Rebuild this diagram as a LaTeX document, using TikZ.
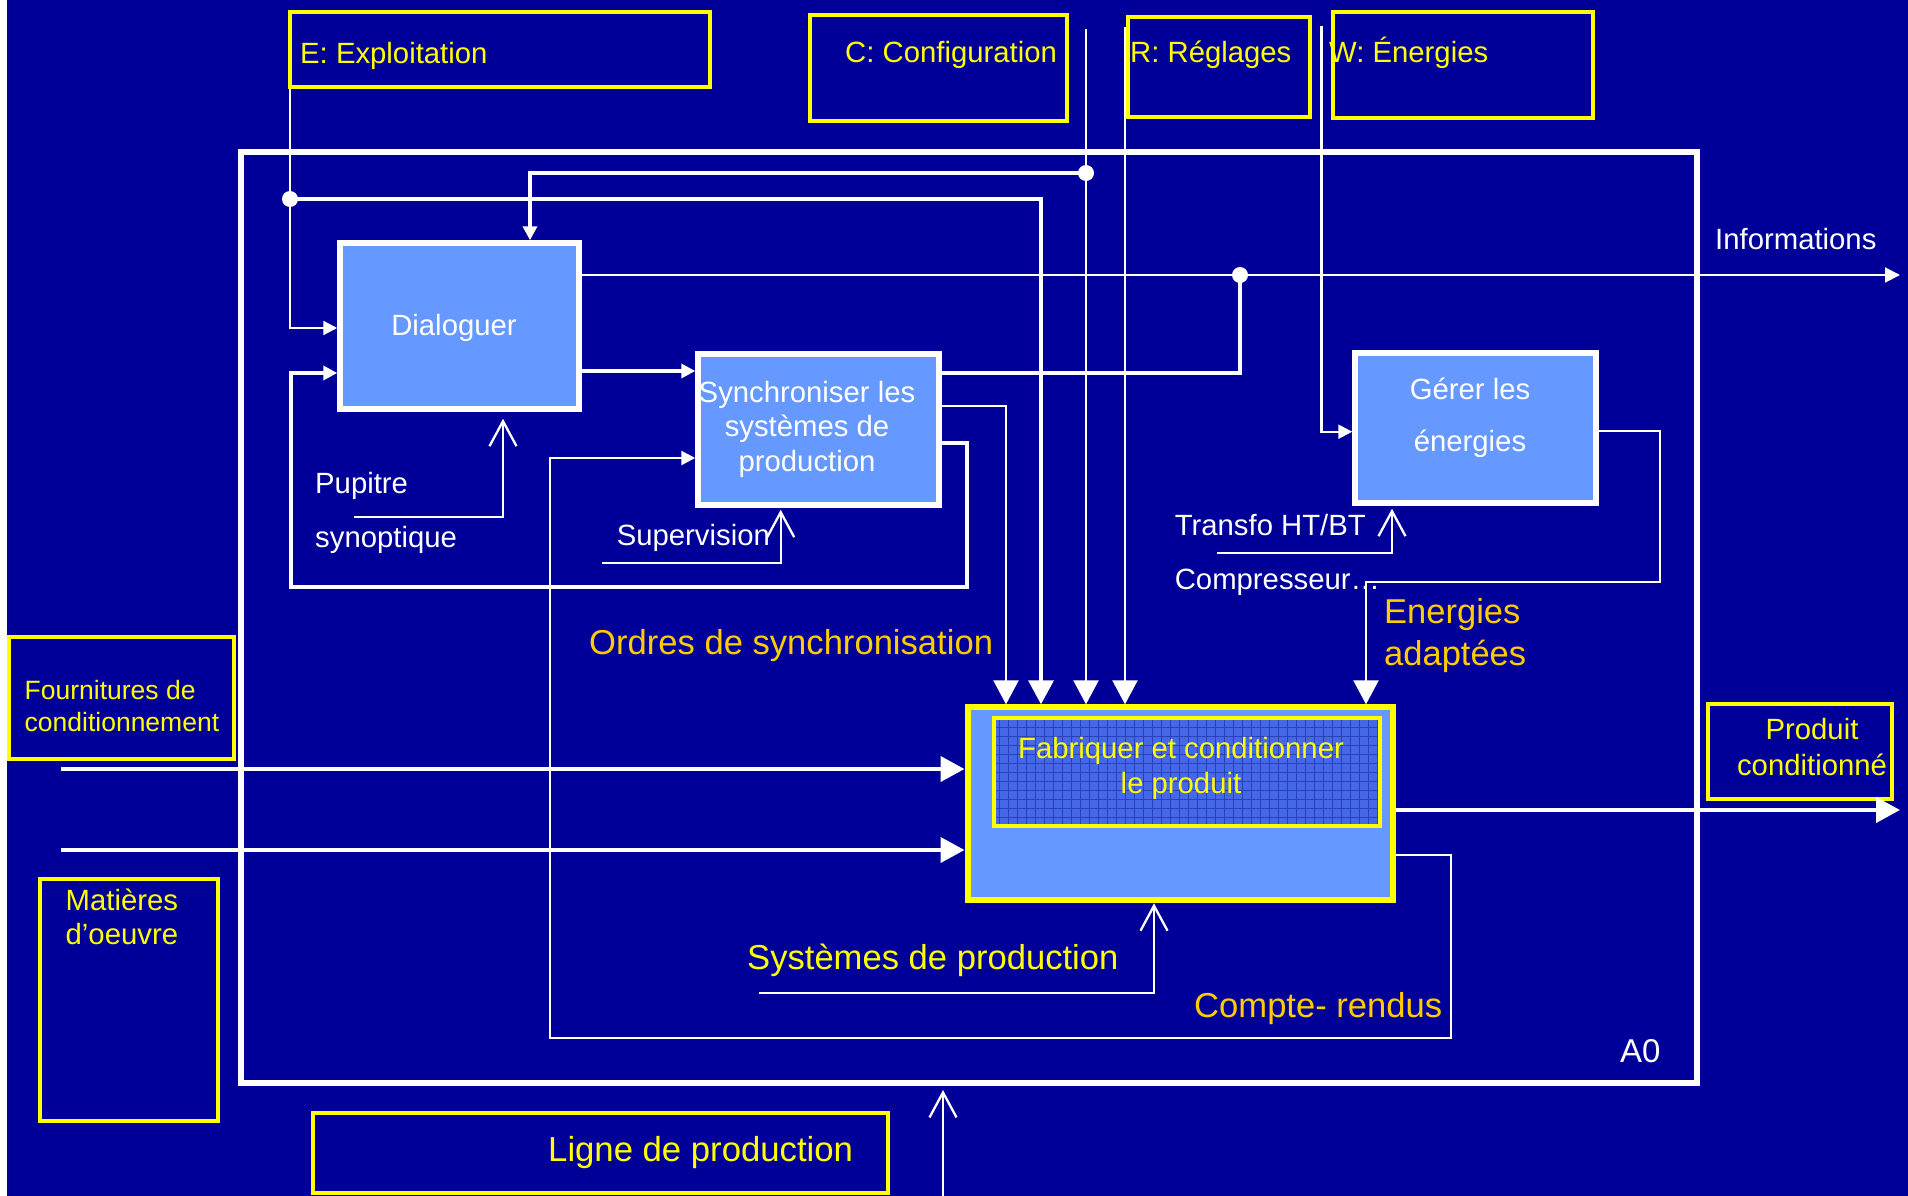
\documentclass[tikz,border=0pt]{standalone}
\usepackage{fontspec}
\setmainfont{Liberation Sans}
\usetikzlibrary{arrows.meta,calc,patterns.meta}
\definecolor{bg}{HTML}{000099}
\definecolor{lblue}{HTML}{6699FF}
\definecolor{yel}{HTML}{FFFF00}
\definecolor{orng}{HTML}{FFCC00}
\definecolor{innerb}{HTML}{4468E8}
\definecolor{gridb}{HTML}{2A40B8}
\newcommand\mlines[4]{\fontsize{#1}{#2}\selectfont\begin{tabular}[t]{@{}#3@{}}#4\end{tabular}}
\begin{document}
\begin{tikzpicture}[x=1pt,y=-1pt,
  ybox/.style={draw=yel,line width=4pt,inner sep=0pt,rectangle},
  wbox/.style={draw=white,fill=lblue,line width=5.5pt,inner sep=0pt,rectangle},
  txt/.style={inner sep=0pt,anchor=base west,text=white,font=\fontsize{29.3}{34}\selectfont},
  txtc/.style={inner sep=0pt,anchor=base,text=white},
  big/.style={font=\fontsize{34.6}{40}\selectfont},
  thinl/.style={draw=white,line width=2.3pt},
  medl/.style={draw=white,line width=3.6pt},
  bigtip/.style={-{Triangle[length=24pt,width=25pt]}},
  smalltip/.style={-{Triangle[length=14pt,width=14pt]}},
  opentip/.style={-{Straight Barb[length=25pt,width=27pt]}},
  jdot/.style={circle,fill=white,inner sep=0pt,minimum size=16pt}]
\useasboundingbox (0,0) rectangle (1908,1196);
\fill[white] (0,0) rectangle (7,1196);
\fill[bg] (7,0) rectangle (1908,1196);

% boxes
\node[ybox,minimum width=420pt,minimum height=74.5pt] (ebox) at (500,49.5) {};
\node[ybox,minimum width=257pt,minimum height=106pt] (cbox) at (938.5,68) {};
\node[ybox,minimum width=182pt,minimum height=100.5pt] (rbox) at (1219,67.25) {};
\node[ybox,minimum width=260pt,minimum height=105.5pt] (wbox) at (1463,65) {};
\node[draw=white,line width=6pt,inner sep=0pt,minimum width=1456.5pt,minimum height=931.5pt] (a0) at (968.75,617.25) {};
\node[wbox,minimum width=239pt,minimum height=166pt] (dlg) at (459.5,326) {};
\node[wbox,minimum width=241pt,minimum height=151pt] (syn) at (818.5,429.5) {};
\node[wbox,minimum width=241pt,minimum height=150pt] (ger) at (1475.5,428) {};
\node[draw=yel,fill=lblue,line width=6pt,inner sep=0pt,minimum width=425pt,minimum height=193pt] (fab) at (1180,803.8) {};
\node[draw=yel,line width=4pt,inner sep=0pt,minimum width=385.5pt,minimum height=108pt,
  preaction={fill=innerb},
  preaction={pattern={Hatch[angle=0,distance=9pt,line width=1pt]},pattern color=gridb}] (inner) at (1186.75,772) {};
\node[ybox,minimum width=184pt,minimum height=94.7pt] (prod) at (1800,751.35) {};
\node[ybox,minimum width=225pt,minimum height=122pt] (four) at (121.5,698) {};
\node[ybox,minimum width=178pt,minimum height=242pt] (mat) at (129,1000) {};
\node[ybox,minimum width=575.5pt,minimum height=80.3pt] (ligne) at (600.25,1152.85) {};

% named points
\coordinate (d1) at (290,199);
\coordinate (d2) at (1086,173);
\coordinate (d3) at (1240,275);
\coordinate (cTop) at (1086,29);
\coordinate (rTop) at (1125,27.5);
\coordinate (wTop) at (1321.5,25.6);
\coordinate (infoEnd) at (1900,275);
\coordinate (prodEnd) at (1900,810);
\coordinate (in1) at (61,769);
\coordinate (in2) at (61,850);
\coordinate (pupS) at (354,517);
\coordinate (supS) at (602,562.7);
\coordinate (traS) at (1217,553);
\coordinate (sysS) at (759,993);
\coordinate (ligS) at (943,1196);

% connectors
\draw[thinl,smalltip] (d1 |- ebox.south) -- (d1) -- (290,328) -- (dlg.west |- 0,328);
\draw[medl,bigtip] (d1) -| (fab.north -| 1041,0);
\draw[thinl,bigtip] (cTop) -- (cTop |- fab.north);
\draw[medl,smalltip] (d2) -| (dlg.north -| 530,0);
\draw[thinl,bigtip] (rTop) -- (rTop |- fab.north);
\draw[thinl,smalltip] (wTop) |- (ger.west |- 0,431.7);
\draw[draw=white,line width=2pt,-{Triangle[length=15pt,width=15pt]}] (dlg.east |- infoEnd) -- (infoEnd);
\draw[medl] (d3) |- (syn.east |- 0,373);
\draw[medl,smalltip] (dlg.east |- 0,371) -- (syn.west |- 0,371);
\draw[thinl,bigtip] (syn.east |- 0,405.7) -| (fab.north -| 1006,0);
\draw[medl,smalltip] (syn.east |- 0,443) -- (966.7,443) -- (966.7,586.7) -- (290.7,586.7) -- (290.7,373) -- (dlg.west |- 0,373);
\draw[thinl,smalltip] (fab.east |- 0,855) -- (1451,855) -- (1451,1038) -- (550,1038) -- (550,458) -- (syn.west |- 0,458);
\draw[thinl,opentip] (pupS) -| ($(dlg.south -| 503,0)+(0,7)$);
\draw[thinl,opentip] (supS) -| ($(syn.south -| 780.7,0)+(0,2)$);
\draw[thinl,opentip] (traS) -| ($(ger.south -| 1392,0)+(0,3)$);
\draw[thinl,bigtip] (ger.east |- 0,431) -- (1660,431) -- (1660,581.7) -| (fab.north -| 1366,0);
\draw[thinl,opentip] (sysS) -| (fab.south -| 1154,0);
\draw[draw=white,line width=4pt,bigtip] (in1) -- (fab.west |- in1);
\draw[draw=white,line width=4pt,bigtip] (in2) -- (fab.west |- in2);
\draw[draw=white,line width=4pt,bigtip] (fab.east |- prodEnd) -- (prodEnd);
\draw[thinl,opentip] (ligS) -- ($(a0.south -| ligS)+(0,4)$);

\node[jdot] (j1) at (d1) {};
\node[jdot] (j2) at (d2) {};
\node[jdot] (j3) at (d3) {};

% texts
\node[txt,text=yel] (tE) at (300,64) {E: Exploitation};
\node[txt,text=yel] (tC) at (845,63) {C: Configuration};
\node[txt,text=yel] (tR) at (1130,63) {R: Réglages};
\node[txt,text=yel] (tW) at (1329,63) {W: Énergies};
\node[txt] (tInfo) at (1715,249.5) {Informations};
\node[txt,anchor=base] (tDlg) at (454,335) {Dialoguer};
\node[txtc] (tSyn) at (807,402) {\mlines{29.3}{34.7}{c}{Synchroniser les\\systèmes de\\production}};
\node[txtc] (tGer) at (1470,399) {\mlines{29.3}{52.6}{c}{Gérer les\\énergies}};
\node[txt] (tPup) at (315,493.6) {\mlines{29.3}{53.4}{l}{Pupitre\\synoptique}};
\node[txt] (tSup) at (616.6,545) {Supervision};
\node[txt] (tTra) at (1174.6,535.7) {\mlines{29.3}{53.3}{l}{Transfo HT/BT\\Compresseur…}};
\node[txt,big,text=orng] (tOrd) at (589,654) {Ordres de synchronisation};
\node[txt,text=orng] (tEnA) at (1384,623.5) {\mlines{34.5}{41.5}{l}{Energies\\adaptées}};
\node[txtc,text=yel] (tFab) at (1181,758.6) {\mlines{29.3}{34.4}{c}{Fabriquer et conditionner\\le produit}};
\node[txtc,text=yel] (tProd) at (1812,739.5) {\mlines{29.3}{35.5}{c}{Produit\\conditionné}};
\node[txt,text=yel] (tFour) at (24.5,699) {\mlines{26.5}{32}{l}{Fournitures de\\conditionnement}};
\node[txt,text=yel] (tMat) at (65.5,910) {\mlines{29.3}{34}{l}{Matières\\d’oeuvre}};
\node[txt,big,text=yel] (tSys) at (747,969) {Systèmes de production};
\node[txt,big,text=orng] (tCR) at (1194,1017) {Compte- rendus};
\node[txt,font=\fontsize{33}{38}\selectfont] (tA0) at (1620,1062.7) {A0};
\node[txt,text=yel,font=\fontsize{34.7}{40}\selectfont] (tLig) at (548,1161.6) {Ligne de production};
\end{tikzpicture}
\end{document}
